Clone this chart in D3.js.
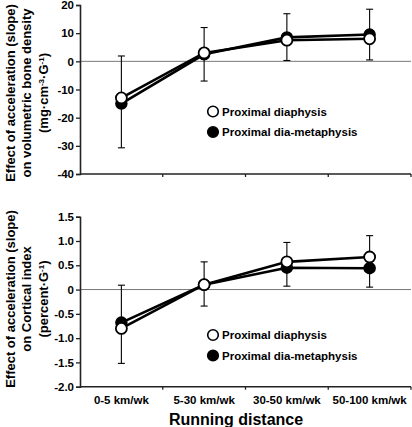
<!DOCTYPE html>
<html><head><meta charset="utf-8">
<script src="https://cdn.jsdelivr.net/npm/d3@7"></script>
<style>body{margin:0;background:#fff}text{font-family:Arial,"Liberation Sans",sans-serif;font-weight:bold;fill:#000}</style>
</head><body>
<svg id="c" width="412" height="427"></svg>
<script>
const categories = ["0-5 km/wk","5-30 km/wk","30-50 km/wk","50-100 km/wk"];
const seriesNames = ["Proximal diaphysis","Proximal dia-metaphysis"];
// top panel: volumetric bone density
const topDiaphysis = [-13, 3, 7.5, 8];
const topDiaMeta = [-15, 2.5, 8.5, 9.5];
const topErrHigh = [1.9, 12, 16.9, 18.5];
const topErrLow = [-30.7, -7, 0.3, 0.5];
const topTicks = [20, 10, 0, -10, -20, -30, -40];
// bottom panel: cortical index
const botDiaphysis = [-0.8, 0.1, 0.57, 0.67];
const botDiaMeta = [-0.68, 0.1, 0.45, 0.44];
const botErrHigh = [0.09, 0.57, 0.97, 1.11];
const botErrLow = [-1.52, -0.34, 0.07, 0.05];
const botTicks = [1.5, 1.0, 0.5, 0, -0.5, -1.0, -1.5, -2.0];

const svg = d3.select("#c");
const x = d3.scaleBand().domain(categories).range([80, 411]);

function panel(o){
  const y = d3.scaleLinear().domain(o.domain).range(o.range);
  const g = svg.append("g");
  g.append("line").attr("x1",80).attr("x2",411).attr("y1",y(0)).attr("y2",y(0))
    .attr("stroke","#777").attr("stroke-width",1);
  const ya = g.append("g").attr("transform","translate(80,0)")
    .call(d3.axisLeft(y).tickValues(o.ticks).tickFormat(o.fmt).tickSize(4).tickPadding(2));
  ya.select(".domain").attr("stroke","#222").attr("stroke-width",1.6);
  ya.selectAll(".tick line").attr("stroke","#222").attr("stroke-width",1.3);
  ya.selectAll("text").style("font-size","11.5px").style("font-weight","bold").attr("fill","#000");
  const xa = g.append("g").attr("transform",`translate(0,${o.range[0]})`)
    .call(d3.axisBottom(x).tickSize(0).tickPadding(9));
  xa.select(".domain").attr("stroke","#222").attr("stroke-width",1.6).attr("d",`M80,0H411`);
  xa.selectAll(".tick line").remove();
  const edges = categories.map(c=>x(c)+x.bandwidth());
  xa.selectAll(".edge").data(edges).enter().append("line").attr("class","edge")
    .attr("x1",d=>d).attr("x2",d=>d).attr("y1",0).attr("y2",3).attr("stroke","#222").attr("stroke-width",1.3);
  if(o.showLabels){
    xa.selectAll("text").style("font-size","11.5px").style("font-weight","bold").attr("fill","#000");
  } else xa.selectAll(".tick text").remove();
  const cx = c=>x(c)+x.bandwidth()/2;
  categories.forEach((c,i)=>{
    const X = cx(c);
    g.append("line").attr("x1",X).attr("x2",X).attr("y1",y(o.hi[i])).attr("y2",y(o.lo[i])).attr("stroke","#000").attr("stroke-width",1.1);
    [o.hi[i],o.lo[i]].forEach(v=>g.append("line").attr("x1",X-3.5).attr("x2",X+3.5).attr("y1",y(v)).attr("y2",y(v)).attr("stroke","#000").attr("stroke-width",1.1));
  });
  const line = d3.line().x((d,i)=>cx(categories[i])).y(d=>y(d));
  [o.filled, o.open].forEach(s=>g.append("path").attr("d",line(s)).attr("fill","none").attr("stroke","#000").attr("stroke-width",2.6));
  g.selectAll(".f").data(o.filled).enter().append("circle").attr("cx",(d,i)=>cx(categories[i])).attr("cy",d=>y(d)).attr("r",5.5).attr("fill","#000").attr("stroke","#000").attr("stroke-width",1.5);
  g.selectAll(".o").data(o.open).enter().append("circle").attr("cx",(d,i)=>cx(categories[i])).attr("cy",d=>y(d)).attr("r",5.5).attr("fill","#fff").attr("stroke","#000").attr("stroke-width",1.8);
  const lg = g.append("g");
  [[seriesNames[0],"#fff",o.legY],[seriesNames[1],"#000",o.legY+20.5]].forEach(([t,f,ly])=>{
    lg.append("circle").attr("cx",213).attr("cy",ly).attr("r",5.3).attr("fill",f).attr("stroke","#000").attr("stroke-width",1.6);
    lg.append("text").attr("x",222).attr("y",ly+4).style("font-size","11.5px").text(t);
  });
  const tg = g.append("g").attr("transform",`translate(0,${o.titleY}) rotate(-90)`);
  o.title.forEach((t,i)=>{
    const tx = tg.append("text").attr("x",0).attr("y",14.5+i*16.5).attr("text-anchor","middle").style("font-size","13px");
    if(typeof t==="string") tx.text(t);
    else t.forEach(p=>{ const ts=tx.append("tspan").text(p[0]); if(p[1]) ts.attr("dy",p[1]); if(p[2]) ts.style("font-size","8px"); });
  });
}

const hy = s => s.replace("\u2212","-");
panel({domain:[-40,20],range:[174,5],ticks:topTicks,fmt:d=>hy(d3.format("d")(d)),
  filled:topDiaMeta,open:topDiaphysis,hi:topErrHigh,lo:topErrLow,legY:111.5,titleY:93,showLabels:false,
  title:["Effect of acceleration (slope)","on volumetric bone density",[["(mg·cm"],["-3","-4",1],["·G","4"],["-1","-4",1],[")","4"]]]});
panel({domain:[-2,1.5],range:[386.7,216.7],ticks:botTicks,fmt:d=>d===0?"0":hy(d3.format(".1f")(d)),
  filled:botDiaMeta,open:botDiaphysis,hi:botErrHigh,lo:botErrLow,legY:335,titleY:299,showLabels:true,
  title:["Effect of acceleration (slope)","on Cortical index",[["(percent·G"],["-1","-4",1],[")","4"]]]});

svg.append("text").attr("x",236).attr("y",425).attr("text-anchor","middle").style("font-size","16px").text("Running distance");
</script>
</body></html>
